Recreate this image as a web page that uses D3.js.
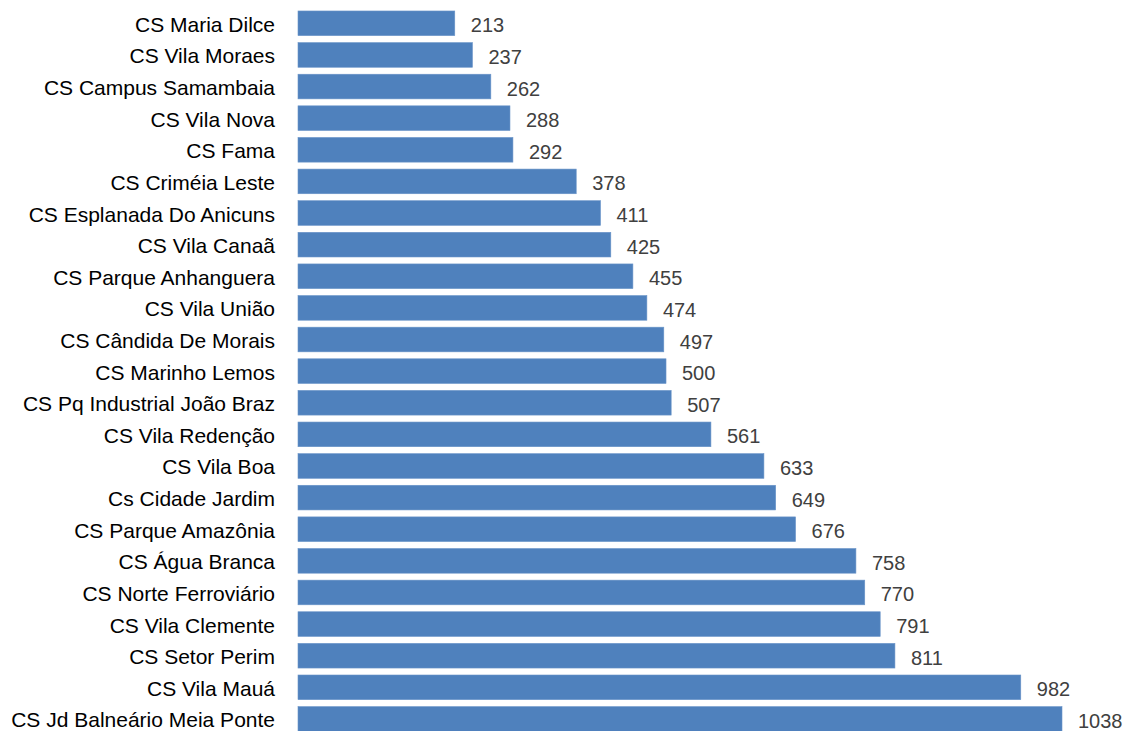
<!DOCTYPE html>
<html>
<head>
<meta charset="utf-8">
<title>CS bars</title>
<script src="https://cdn.jsdelivr.net/npm/d3@7"></script>
<style>
  body { margin: 0; background: #fff; }
  text { font-family: "Liberation Sans", Arial, sans-serif; }
</style>
</head>
<body>
<script>
// categories, top to bottom
var units = ["CS Maria Dilce", "CS Vila Moraes", "CS Campus Samambaia", "CS Vila Nova",
  "CS Fama", "CS Criméia Leste", "CS Esplanada Do Anicuns", "CS Vila Canaã",
  "CS Parque Anhanguera", "CS Vila União", "CS Cândida De Morais", "CS Marinho Lemos",
  "CS Pq Industrial João Braz", "CS Vila Redenção", "CS Vila Boa", "Cs Cidade Jardim ",
  "CS Parque Amazônia", "CS Água Branca", "CS Norte Ferroviário", "CS Vila Clemente",
  "CS Setor Perim", "CS Vila Mauá", "CS Jd Balneário Meia Ponte"];
var counts = [213, 237, 262, 288, 292, 378, 411, 425, 455, 474, 497, 500,
  507, 561, 633, 649, 676, 758, 770, 791, 811, 982, 1038];

var W = 1131, H = 731;

var svg = d3.select("body").append("svg")
    .attr("width", W)
    .attr("height", H);

var x = d3.scaleLinear()
    .domain([0, 1038])
    .range([298, 1062]);

var step = 31.62;
var y = d3.scaleBand()
    .domain(units)
    .range([7.5, 7.5 + step * units.length])
    .paddingInner(0.22)
    .paddingOuter(0.11);

var rows = svg.selectAll("g.row")
    .data(units)
    .enter()
    .append("g")
    .attr("class", "row");

rows.append("rect")
    .attr("x", x(0))
    .attr("y", function(d){ return y(d); })
    .attr("width", function(d, i){ return x(counts[i]) - x(0); })
    .attr("height", y.bandwidth())
    .attr("fill", "#4f81bd")
    .attr("stroke", "#6a94c8")
    .attr("stroke-width", 0.6);

// category names
rows.append("text")
    .attr("x", 275)
    .attr("y", function(d){ return y(d) + y.bandwidth() / 2 + 1; })
    .attr("text-anchor", "end")
    .attr("dominant-baseline", "central")
    .attr("font-size", 21)
    .attr("fill", "#000")
    .text(function(d){ return d; });

// value labels
rows.append("text")
    .attr("x", function(d, i){ return x(counts[i]) + 16; })
    .attr("y", function(d){ return y(d) + y.bandwidth() / 2 + 2; })
    .attr("dominant-baseline", "central")
    .attr("font-size", 20)
    .attr("fill", "#404040")
    .text(function(d, i){ return counts[i]; });
</script>
</body>
</html>
